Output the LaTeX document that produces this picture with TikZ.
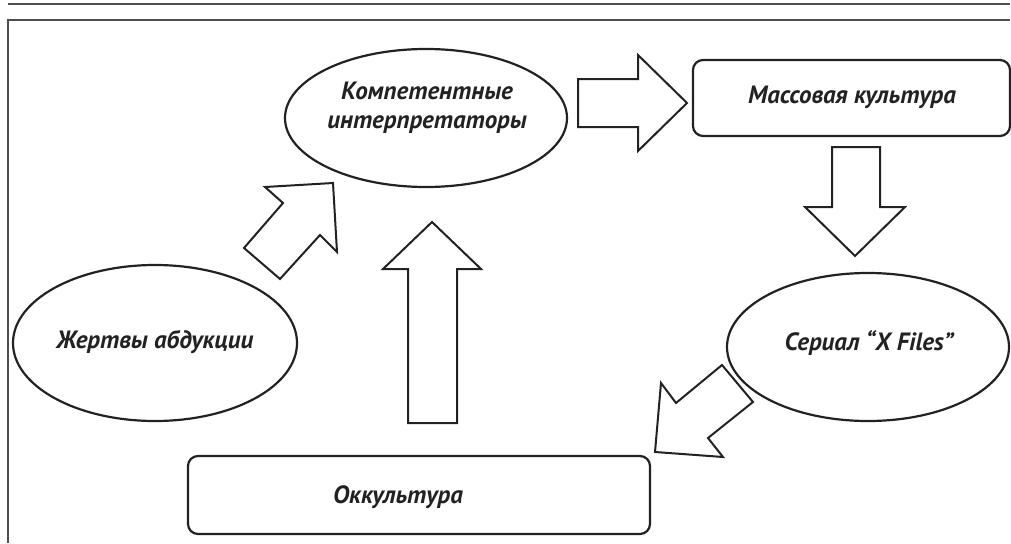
\documentclass[tikz,border=0pt]{standalone}
\usepackage{fontspec}
\setmainfont{PT Sans}
\usetikzlibrary{shapes.geometric}
\definecolor{ink}{HTML}{222222}
\tikzset{
  ell/.style={draw=ink, line width=2.2pt, ellipse, inner sep=0pt},
  rbox/.style={draw=ink, line width=2.2pt, rectangle, rounded corners=10pt, inner sep=0pt},
  blockarrow/.style={draw=ink, line width=2pt, fill=white, line join=miter},
  lbl/.style={text=ink, font=\fontsize{25}{29}\selectfont\bfseries\itshape, align=center, inner sep=0pt},
  rule/.style={draw=ink!80, line width=1.6pt}
}
\begin{document}
\begin{tikzpicture}[x=1pt,y=-1pt]
\useasboundingbox (0,0) rectangle (1011,543);
% frame lines
\coordinate (t1) at (8,4); \coordinate (t2) at (1010,4);
\coordinate (f1) at (8,543); \coordinate (f2) at (8,20); \coordinate (f3) at (1010,20);
\draw[rule] (t1) -- (t2);
\draw[rule] (f1) -- (f2) -- (f3);
% nodes
\node[ell, minimum width=282pt, minimum height=138pt] (komp) at (426,118) {};
\node[lbl] (kompt) at (427,108) {Компетентные\\интерпретаторы};
\node[ell, minimum width=284pt, minimum height=156pt] (zhert) at (155,343) {};
\node[lbl] (zhertt) at (155,342) {Жертвы абдукции};
\node[ell, minimum width=282pt, minimum height=148pt] (serial) at (868,347) {};
\node[lbl] (serialt) at (869,343) {Сериал “X Files”};
\node[rbox, minimum width=317pt, minimum height=76pt] (mass) at (851.5,98) {};
\node[lbl] (masst) at (852,97) {Массовая культура};
\node[rbox, minimum width=462pt, minimum height=78pt] (okk) at (419,495) {};
\node[lbl] (okkt) at (398,497) {Оккультура};
% block arrows
\draw[blockarrow] (333,183) -- (265,187) -- (283,203) -- (244,248) -- (280,279) -- (320,235) -- (337,252) -- cycle;
\draw[blockarrow] (432,222) -- (383,269) -- (408,269) -- (408,423) -- (457,423) -- (457,269) -- (481,269) -- cycle;
\draw[blockarrow] (687,103) -- (638,55) -- (638,79) -- (578,79) -- (578,127) -- (638,127) -- (638,151) -- cycle;
\draw[blockarrow] (855,256) -- (905,207) -- (880,207) -- (880,147) -- (832,147) -- (832,207) -- (805,207) -- cycle;
\draw[blockarrow] (655,452) -- (723,457) -- (708,438) -- (753,402) -- (722,365) -- (676,403) -- (661,383) -- cycle;
\end{tikzpicture}
\end{document}
